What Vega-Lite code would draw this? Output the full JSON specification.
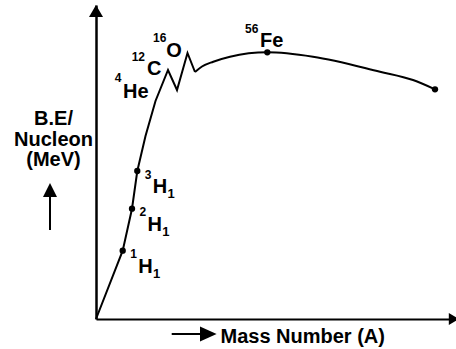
{
  "$schema": "https://vega.github.io/schema/vega-lite/v6.json",
  "width": 360,
  "height": 314,
  "autosize": {"type": "none"},
  "padding": {"left": 96, "top": 5, "right": 0, "bottom": 30},
  "background": "white",
  "config": {
    "view": {"stroke": null},
    "text": {"font": "Liberation Sans", "fontWeight": "bold", "color": "black"},
    "axis": {
      "domain": true,
      "domainColor": "black",
      "ticks": false,
      "labels": false,
      "grid": false,
      "titleFont": "Liberation Sans",
      "titleFontSize": 20,
      "titleFontWeight": "bold",
      "titleColor": "black"
    }
  },
  "data": {
    "values": [
      {"a": 0, "be": 0, "seg": "rise"},
      {"a": 26.7, "be": 68.3, "seg": "rise", "dot": true, "sym": "H", "mass": "1", "sub": "1"},
      {"a": 36, "be": 110.3, "seg": "rise", "dot": true, "sym": "H", "mass": "2", "sub": "1"},
      {"a": 41.3, "be": 148, "seg": "rise", "dot": true, "sym": "H", "mass": "3", "sub": "1"},
      {"a": 49.5, "be": 183, "seg": "rise"},
      {"a": 59.5, "be": 218, "seg": "rise", "sym": "He", "mass": "4"},
      {"a": 72, "be": 249, "seg": "rise", "sym": "C", "mass": "12"},
      {"a": 81, "be": 229, "seg": "rise"},
      {"a": 91.5, "be": 266, "seg": "rise", "sym": "O", "mass": "16"},
      {"a": 99, "be": 247, "seg": "rise"},
      {"a": 99, "be": 247, "seg": "plateau"},
      {"a": 106, "be": 252.5, "seg": "plateau"},
      {"a": 117.3, "be": 257.3, "seg": "plateau"},
      {"a": 134, "be": 262.3, "seg": "plateau"},
      {"a": 171.3, "be": 266.7, "seg": "plateau", "dot": true, "sym": "Fe", "mass": "56"},
      {"a": 217, "be": 262.3, "seg": "plateau"},
      {"a": 284, "be": 247.3, "seg": "plateau"},
      {"a": 317, "be": 239, "seg": "plateau"},
      {"a": 339, "be": 229.7, "seg": "plateau", "dot": true}
    ]
  },
  "encoding": {
    "x": {
      "field": "a",
      "type": "quantitative",
      "scale": {"domain": [0, 360], "nice": false, "zero": false},
      "axis": {
        "title": "Mass Number (A)",
        "domainWidth": 2.2,
        "titleAlign": "left",
        "titleBaseline": "alphabetic",
        "titleX": 124,
        "titleY": 23.5
      }
    },
    "y": {
      "field": "be",
      "type": "quantitative",
      "scale": {"domain": [0, 314], "nice": false, "zero": false},
      "axis": {
        "title": ["B.E/", "Nucleon", "(MeV)"],
        "domainWidth": 2.5,
        "titleAngle": 0,
        "titleAlign": "center",
        "titleBaseline": "alphabetic",
        "titleLineHeight": 20.5,
        "titleX": -43,
        "titleY": 119.5
      }
    }
  },
  "layer": [
    {
      "transform": [{"filter": "datum.seg === 'rise'"}],
      "mark": {"type": "line", "color": "black", "strokeWidth": 2, "interpolate": "linear"}
    },
    {
      "transform": [{"filter": "datum.seg === 'plateau'"}],
      "mark": {"type": "line", "color": "black", "strokeWidth": 2, "interpolate": "monotone"}
    },
    {
      "transform": [{"filter": "datum.dot === true"}],
      "mark": {"type": "point", "filled": true, "color": "black", "opacity": 1, "size": 40}
    },
    {
      "transform": [{"filter": "datum.sym === 'H'"}],
      "mark": {"type": "text", "fontSize": 12, "align": "center", "baseline": "alphabetic", "dx": 10.8, "dy": 7.6},
      "encoding": {"text": {"field": "mass"}}
    },
    {
      "transform": [{"filter": "datum.sym === 'H'"}],
      "mark": {"type": "text", "fontSize": 20, "align": "center", "baseline": "alphabetic", "dx": 22.7, "dy": 21.8},
      "encoding": {"text": {"field": "sym"}}
    },
    {
      "transform": [{"filter": "datum.sym === 'H'"}],
      "mark": {"type": "text", "fontSize": 13, "align": "center", "baseline": "alphabetic", "dx": 33.8, "dy": 27.4},
      "encoding": {"text": {"field": "sub"}}
    },
    {
      "transform": [{"filter": "datum.sym === 'He'"}],
      "mark": {"type": "text", "fontSize": 12, "align": "center", "baseline": "alphabetic", "dx": -37.5, "dy": -18.7},
      "encoding": {"text": {"field": "mass"}}
    },
    {
      "transform": [{"filter": "datum.sym === 'He'"}],
      "mark": {"type": "text", "fontSize": 20, "align": "center", "baseline": "alphabetic", "dx": -19.7, "dy": -2.7},
      "encoding": {"text": {"field": "sym"}}
    },
    {
      "transform": [{"filter": "datum.sym === 'C'"}],
      "mark": {"type": "text", "fontSize": 12, "align": "center", "baseline": "alphabetic", "dx": -29.7, "dy": -9},
      "encoding": {"text": {"field": "mass"}}
    },
    {
      "transform": [{"filter": "datum.sym === 'C'"}],
      "mark": {"type": "text", "fontSize": 20, "align": "center", "baseline": "alphabetic", "dx": -13.8, "dy": 5},
      "encoding": {"text": {"field": "sym"}}
    },
    {
      "transform": [{"filter": "datum.sym === 'O'"}],
      "mark": {"type": "text", "fontSize": 12, "align": "center", "baseline": "alphabetic", "dx": -27.8, "dy": -10.7},
      "encoding": {"text": {"field": "mass"}}
    },
    {
      "transform": [{"filter": "datum.sym === 'O'"}],
      "mark": {"type": "text", "fontSize": 20, "align": "center", "baseline": "alphabetic", "dx": -13.5, "dy": 4},
      "encoding": {"text": {"field": "sym"}}
    },
    {
      "transform": [{"filter": "datum.sym === 'Fe'"}],
      "mark": {"type": "text", "fontSize": 12, "align": "center", "baseline": "alphabetic", "dx": -15.6, "dy": -19},
      "encoding": {"text": {"field": "mass"}}
    },
    {
      "transform": [{"filter": "datum.sym === 'Fe'"}],
      "mark": {"type": "text", "fontSize": 20, "align": "center", "baseline": "alphabetic", "dx": 4.4, "dy": -5.6},
      "encoding": {"text": {"field": "sym"}}
    },
    {
      "data": {"values": [{"a": 0, "be": 308}]},
      "mark": {"type": "point", "shape": "triangle-up", "filled": true, "color": "black", "opacity": 1, "size": 196}
    },
    {
      "data": {"values": [{"a": 358, "be": 0}]},
      "mark": {"type": "point", "shape": "triangle-right", "filled": true, "color": "black", "opacity": 1, "size": 144}
    },
    {
      "data": {"values": [{"a": 75.7, "a2": 106, "be": -15}]},
      "mark": {"type": "rule", "color": "black", "strokeWidth": 2},
      "encoding": {"x2": {"field": "a2"}}
    },
    {
      "data": {"values": [{"a": 112.3, "be": -15}]},
      "mark": {"type": "point", "shape": "M1,0L-1,-0.9L-1,0.9Z", "filled": true, "color": "black", "opacity": 1, "size": 277}
    },
    {
      "data": {"values": [{"a": -46, "be": 89, "be2": 124}]},
      "mark": {"type": "rule", "color": "black", "strokeWidth": 2},
      "encoding": {"y2": {"field": "be2"}}
    },
    {
      "data": {"values": [{"a": -46, "be": 129}]},
      "mark": {"type": "point", "shape": "M0,-1L-1,1L1,1Z", "filled": true, "color": "black", "opacity": 1, "size": 196}
    }
  ]
}
